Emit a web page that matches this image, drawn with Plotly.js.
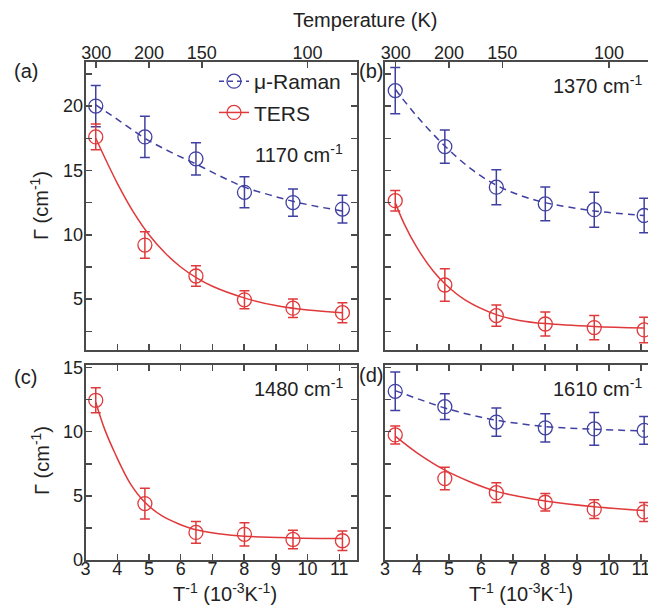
<!DOCTYPE html>
<html><head><meta charset="utf-8">
<script src="https://cdn.plot.ly/plotly-3.0.1.min.js"></script>
<style>html,body{margin:0;padding:0;background:#fff}#chart{width:648px;height:605px}</style>
</head><body><div id="chart"></div>
<script>
// ---- data ----
const xT = [3.32, 4.87, 6.48, 8.01, 9.54, 11.1];          // T^-1 (10^-3 K^-1)
const tempTicks = [300, 200, 150, 100];                      // top axis labels (K)

// (a) 1170 cm-1
const ramanA = [20.0, 17.6, 15.9, 13.3, 12.5, 12.0];
const ramanAErr = [1.6, 1.6, 1.25, 1.2, 1.05, 1.08];
const tersA = [17.6, 9.2, 6.8, 4.95, 4.3, 3.95];
const tersAErr = [1.0, 1.03, 0.8, 0.7, 0.72, 0.78];
const fitRamanAx = [3.32, 4.1, 4.87, 5.7, 6.48, 7.25, 8.01, 8.8, 9.54, 10.3, 11.1];
const fitRamanAy = [20.1, 18.8, 17.5, 16.4, 15.5, 14.55, 13.7, 13.1, 12.6, 12.2, 11.85];
const fitTersAx = [3.32, 3.7, 4.0, 4.5, 5.0, 5.5, 6.0, 6.5, 7.0, 8.0, 9.0, 10.0, 11.1];
const fitTersAy = [17.5, 15.5, 14.0, 11.8, 10.0, 8.6, 7.5, 6.65, 6.0, 5.1, 4.5, 4.15, 3.95];

// (b) 1370 cm-1
const ramanB = [21.2, 16.85, 13.7, 12.4, 11.95, 11.5];
const ramanBErr = [1.8, 1.3, 1.36, 1.31, 1.36, 1.34];
const tersB = [12.65, 6.1, 3.72, 3.07, 2.79, 2.61];
const tersBErr = [0.8, 1.27, 0.82, 0.93, 0.94, 0.99];
const fitRamanBx = [3.32, 4.0, 4.87, 5.7, 6.48, 7.3, 8.01, 9.54, 11.1];
const fitRamanBy = [21.3, 19.2, 16.9, 15.1, 13.85, 13.0, 12.5, 11.85, 11.5];
const fitTersBx = [3.32, 3.6, 4.0, 4.5, 4.87, 5.5, 6.48, 7.2, 8.01, 9.54, 11.1];
const fitTersBy = [12.5, 10.85, 9.0, 7.2, 6.2, 4.95, 3.8, 3.35, 3.1, 2.87, 2.75];

// (c) 1480 cm-1
const tersC = [12.45, 4.4, 2.15, 2.0, 1.6, 1.5];
const tersCErr = [0.97, 1.2, 0.85, 0.9, 0.72, 0.76];
const fitTersCx = [3.32, 3.6, 3.93, 4.4, 4.87, 5.4, 5.9, 6.48, 7.2, 8.01, 9.54, 11.1];
const fitTersCy = [12.3, 10.2, 8.3, 6.0, 4.5, 3.45, 2.85, 2.35, 2.05, 1.85, 1.72, 1.67];

// (d) 1610 cm-1
const ramanD = [13.15, 11.95, 10.75, 10.3, 10.22, 10.1];
const ramanDErr = [1.5, 1.0, 1.1, 1.1, 1.27, 1.08];
const tersD = [9.75, 6.35, 5.25, 4.5, 3.96, 3.75];
const tersDErr = [0.7, 0.88, 0.77, 0.68, 0.73, 0.74];
const fitRamanDx = [3.32, 4.1, 4.87, 5.7, 6.48, 8.01, 9.54, 11.1];
const fitRamanDy = [13.2, 12.5, 11.85, 11.3, 10.9, 10.4, 10.2, 10.05];
const fitTersDx = [3.32, 4.0, 4.87, 5.65, 6.48, 7.2, 8.01, 9.54, 11.1];
const fitTersDy = [9.65, 8.35, 7.0, 6.1, 5.35, 4.95, 4.6, 4.15, 3.85];

// ---- styling ----
const FONT = '"Liberation Sans", Arial, Helvetica, sans-serif';
const BLUE = '#4040a2', RED = '#e0393b', AX = '#4a4a4a';

function pts(y, err, color, xa, ya) {
  return {type:'scatter', mode:'markers', x:xT, y:y, xaxis:xa, yaxis:ya, showlegend:false,
    hoverinfo:'skip', cliponaxis:false,
    marker:{symbol:'circle-open', size:14, color:color, line:{width:1.3, color:color}},
    error_y:{type:'data', array:err, visible:true, color:color, thickness:1.5, width:5}};
}
function fit(x, y, color, dash, xa, ya) {
  return {type:'scatter', mode:'lines', x:x, y:y, xaxis:xa, yaxis:ya, showlegend:false,
    hoverinfo:'skip', line:{color:color, width:1.5, dash:dash, shape:'spline', smoothing:1}};
}
function dummy(xa, ya) {
  return {type:'scatter', mode:'markers', x:[null], y:[null], xaxis:xa, yaxis:ya, showlegend:false, hoverinfo:'skip'};
}
const DASH = '7px,5px';

const traces = [
  fit(fitRamanAx, fitRamanAy, BLUE, DASH, 'x', 'y'),
  fit(fitTersAx, fitTersAy, RED, 'solid', 'x', 'y'),
  pts(ramanA, ramanAErr, BLUE, 'x', 'y'),
  pts(tersA, tersAErr, RED, 'x', 'y'),
  fit(fitRamanBx, fitRamanBy, BLUE, DASH, 'x2', 'y2'),
  fit(fitTersBx, fitTersBy, RED, 'solid', 'x2', 'y2'),
  pts(ramanB, ramanBErr, BLUE, 'x2', 'y2'),
  pts(tersB, tersBErr, RED, 'x2', 'y2'),
  fit(fitTersCx, fitTersCy, RED, 'solid', 'x3', 'y3'),
  pts(tersC, tersCErr, RED, 'x3', 'y3'),
  fit(fitRamanDx, fitRamanDy, BLUE, DASH, 'x4', 'y4'),
  fit(fitTersDx, fitTersDy, RED, 'solid', 'x4', 'y4'),
  pts(ramanD, ramanDErr, BLUE, 'x4', 'y4'),
  pts(tersD, tersDErr, RED, 'x4', 'y4'),
  dummy('x5', 'y'),
  dummy('x6', 'y2'),
  // legend entries
  {type:'scatter', mode:'lines+markers', name:'μ-Raman', x:[null], y:[null], xaxis:'x', yaxis:'y',
   legendgroup:'r', line:{color:BLUE, width:1.5, dash:'5px,4px'},
   marker:{symbol:'circle-open', size:14, color:BLUE, line:{width:1.3, color:BLUE}}},
  {type:'scatter', mode:'lines+markers', name:'TERS', x:[null], y:[null], xaxis:'x', yaxis:'y',
   legendgroup:'t', line:{color:RED, width:1.5},
   marker:{symbol:'circle-open', size:14, color:RED, line:{width:1.3, color:RED}}}
];

const W = 648, H = 605;
const dl = [85.6/W, 356.7/W], dr = [385/W, 1];
const yt = [1-350/H, 1-62.3/H], yb = [1-560/H, 1-365/H];
const rangeL = [3, 11.55], rangeR = [3, 11.22];
const rangeTop = [1.05, 23.4], rangeBot = [0, 15.2];

const base = {showline:true, linecolor:AX, linewidth:2, ticks:'inside', ticklen:6, tickwidth:1.5,
  tickcolor:AX, showgrid:false, zeroline:false, fixedrange:true,
  tickfont:{family:FONT, size:18, color:'#222'}};
const minorY = {dtick:2.5, tick0:0, ticks:'inside', ticklen:6, tickwidth:1.5, tickcolor:AX, showgrid:false};
const tempVals = tempTicks.map(t => 1000/t);

function xBottom(domain, range, anchor, labels, mirror) {
  return Object.assign({}, base, {domain:domain, range:range, anchor:anchor, tick0:3, dtick:1,
    showticklabels:labels, mirror:mirror, ticklabelstandoff:-9, ticklabeloverflow:'allow'});
}
function xTop(over, range, anchor) {
  return Object.assign({}, base, {overlaying:over, side:'top', range:range, anchor:anchor,
    tickmode:'array', tickvals:tempVals, ticktext:tempTicks.map(String), ticklabelstandoff:-6,
    ticklabeloverflow:'allow'});
}
function yAx(domain, range, anchor, labels, mirror) {
  return Object.assign({}, base, {domain:domain, range:range, anchor:anchor, tick0:0, dtick:5,
    showticklabels:labels, mirror:mirror, minor:minorY, ticklabelstandoff:-3});
}

const ann = [];
function txt(text, xpx, ypx, xanchor, size, extra) {
  ann.push(Object.assign({text:text, xref:'paper', yref:'paper', x:xpx/W, y:1-ypx/H,
    xanchor:xanchor, yanchor:'middle', showarrow:false, font:{family:FONT, size:size, color:'#222'}}, extra||{}));
}
txt('Temperature (K)', 366, 20, 'center', 20);
txt('(a)', 12, 71, 'left', 20);
txt('(b)', 357, 71, 'left', 20);
txt('(c)', 12, 377, 'left', 20);
txt('(d)', 357, 375, 'left', 20);
txt('1170 cm<sup>-1</sup>', 253, 153, 'left', 20);
txt('1370 cm<sup>-1</sup>', 551, 85, 'left', 20);
txt('1480 cm<sup>-1</sup>', 252, 387, 'left', 20);
txt('1610 cm<sup>-1</sup>', 551, 387, 'left', 20);
txt('Γ (cm<sup>-1</sup>)', 40, 206, 'center', 20, {textangle:-90});
txt('Γ (cm<sup>-1</sup>)', 40, 461, 'center', 20, {textangle:-90});
txt('T<sup>-1</sup> (10<sup>-3</sup>K<sup>-1</sup>)', 225, 592, 'center', 20);
txt('T<sup>-1</sup> (10<sup>-3</sup>K<sup>-1</sup>)', 521, 592, 'center', 20);

const layout = {
  width:W, height:H, margin:{l:0, r:0, t:0, b:0}, paper_bgcolor:'#fff', plot_bgcolor:'rgba(0,0,0,0)',
  font:{family:FONT, color:'#222'},
  showlegend:true,
  legend:{x:214/W, y:1-61/H, xanchor:'left', yanchor:'top', bgcolor:'rgba(0,0,0,0)',
    font:{family:FONT, size:21, color:'#222'}, tracegroupgap:1, itemwidth:30},
  xaxis: xBottom(dl, rangeL, 'y', false, false),
  xaxis2: xBottom(dr, rangeR, 'y2', false, false),
  xaxis3: xBottom(dl, rangeL, 'y3', true, 'ticks'),
  xaxis4: xBottom(dr, rangeR, 'y4', true, 'ticks'),
  xaxis5: xTop('x', rangeL, 'y'),
  xaxis6: xTop('x2', rangeR, 'y2'),
  yaxis: yAx(yt, rangeTop, 'x', true, 'ticks'),
  yaxis2: yAx(yt, rangeTop, 'x2', false, false),
  yaxis3: yAx(yb, rangeBot, 'x3', true, 'ticks'),
  yaxis4: yAx(yb, rangeBot, 'x4', false, false),
  annotations: ann
};

Plotly.newPlot('chart', traces, layout, {displayModeBar:false, staticPlot:true});
</script>
</body></html>
